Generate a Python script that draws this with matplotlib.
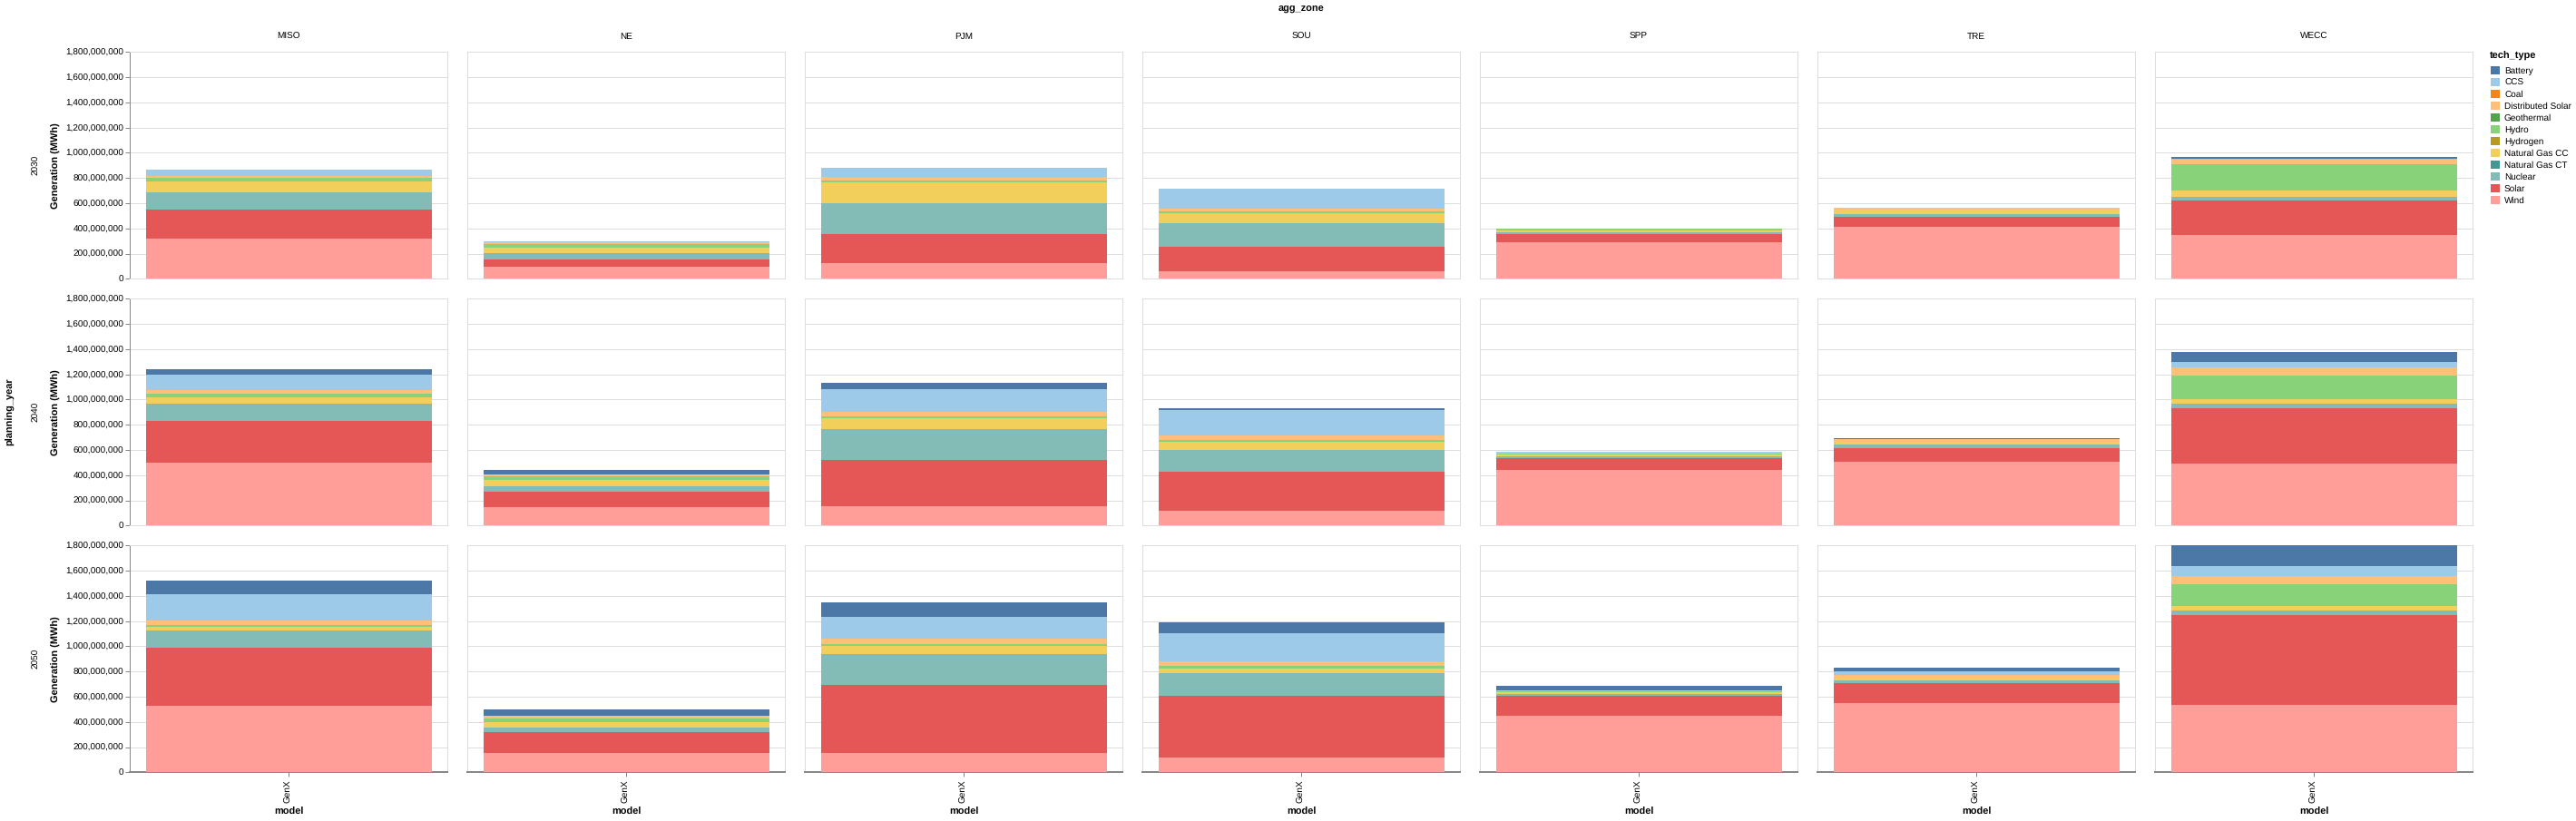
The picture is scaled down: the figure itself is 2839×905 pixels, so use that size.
"""Stacked generation by tech type, faceted by zone and planning year."""

import matplotlib

matplotlib.use("Agg")
import matplotlib.pyplot as plt
from matplotlib.patches import Patch
from matplotlib.ticker import FuncFormatter, MultipleLocator

plt.rcParams["font.family"] = ["Liberation Sans", "DejaVu Sans"]
plt.rcParams["text.hinting"] = "no_hinting"

zones = ["MISO", "NE", "PJM", "SOU", "SPP", "TRE", "WECC"]
years = ["2030", "2040", "2050"]
model = "GenX"

# legend order, top of the stack first
tech_types = [
    "Battery", "CCS", "Coal", "Distributed Solar", "Geothermal", "Hydro",
    "Hydrogen", "Natural Gas CC", "Natural Gas CT", "Nuclear", "Solar", "Wind",
]
tech_colors = [
    "#4c78a8", "#9ecae9", "#f58518", "#ffbf79", "#54a24b", "#88d27a",
    "#b79a20", "#f2cf5b", "#439894", "#83bcb6", "#e45756", "#ff9d98",
]

# million MWh: one row per year, one column per zone
wind = [
    [322, 94, 127, 62, 290, 415, 350],
    [499, 146, 154, 118, 442, 506, 492],
    [526, 151, 151, 120, 446, 550, 533],
]
solar = [
    [225, 60, 228, 195, 65, 75, 272],
    [334, 125, 364, 307, 93, 111, 442],
    [465, 166, 545, 490, 164, 156, 717],
]
nuclear = [
    [137, 50, 247, 182, 15, 26, 28],
    [132, 43, 248, 177, 17, 24, 31],
    [135, 38, 245, 180, 12, 26, 36],
]
gas_ct = [
    [2, 1, 0, 0, 0, 0, 0],
    [0, 0, 0, 0, 0, 0, 0],
    [0, 0, 0, 0, 0, 0, 0],
]
gas_cc = [
    [84, 42, 161, 79, 14, 29, 53],
    [53, 46, 84, 63, 14, 21, 38],
    [26, 43, 60, 36, 16, 19, 34],
]
hydrogen = [
    [0, 0, 0, 0, 0, 0, 0],
    [0, 0, 0, 0, 0, 0, 0],
    [0, 0, 0, 0, 0, 0, 0],
]
hydro = [
    [32, 29, 15, 15, 12, 0, 204],
    [26, 29, 14, 17, 4, 0, 190],
    [17, 29, 17, 16, 4, 0, 170],
]
geothermal = [
    [0, 0, 0, 0, 0, 0, 0],
    [0, 0, 0, 0, 0, 0, 0],
    [0, 0, 0, 0, 0, 0, 0],
]
dist_solar = [
    [14, 12, 28, 21, 5, 17, 41],
    [31, 17, 38, 31, 10, 22, 60],
    [38, 19, 40, 36, 8, 22, 65],
]
coal = [
    [0, 0, 0, 0, 0, 0, 0],
    [0, 0, 0, 0, 0, 0, 0],
    [0, 0, 0, 0, 0, 0, 0],
]
ccs = [
    [48, 7, 72, 159, 0, 0, 5],
    [120, 0, 183, 204, 3, 0, 48],
    [204, 0, 176, 224, 0, 31, 79],
]
battery = [
    [0, 5, 0, 0, 0, 0, 17],
    [45, 36, 45, 14, 0, 10, 74],
    [108, 51, 115, 86, 36, 26, 168],
]

# bottom of the stack first, matches reversed(tech_types)
stack = [
    wind, solar, nuclear, gas_ct, gas_cc, hydrogen,
    hydro, geothermal, dist_solar, coal, ccs, battery,
]

W, H = 2839, 905
DPI = 100
PX = 72 / DPI  # one pixel in points

GRID = "#dddddd"
DOMAIN = "#888888"

fig = plt.figure(figsize=(W / DPI, H / DPI), dpi=DPI)


def fig_xy(x, y):
    return x / W, 1 - y / H


def add_panel(left, top, width=350, height=250):
    return fig.add_axes([left / W, 1 - (top + height) / H, width / W, height / H])


panel_lefts = [143, 515, 887, 1259, 1631, 2003, 2375]
panel_tops = [57.3, 329.3, 601.3]

for row, top in enumerate(panel_tops):
    for col, left in enumerate(panel_lefts):
        ax = add_panel(left, top)
        bottom = 0.0
        for values, color in zip(stack, reversed(tech_colors)):
            value = values[row][col] * 1e6
            if value > 0:
                ax.bar(0, value, bottom=bottom, width=0.9, color=color, linewidth=0, zorder=3)
            bottom += value

        ax.set_xlim(-0.5, 0.5)
        ax.set_ylim(0, 1.8e9)
        ax.yaxis.set_major_locator(MultipleLocator(2e8))
        ax.grid(axis="y", color=GRID, linewidth=1 * PX, zorder=0)
        ax.set_axisbelow(True)
        for spine in ax.spines.values():
            spine.set_color(GRID)
            spine.set_linewidth(1 * PX)

        if col == 0:
            ax.spines["left"].set_color(DOMAIN)
            ax.yaxis.set_major_formatter(FuncFormatter(lambda v, _: f"{v:,.0f}"))
            ax.tick_params(
                axis="y", length=5 * PX, width=1 * PX, color=DOMAIN,
                labelsize=10 * PX, pad=2 * PX,
            )
            ax.set_ylabel("Generation (MWh)", fontsize=11 * PX, fontweight="bold", va="center")
            ax.yaxis.set_label_coords((62 - left) / 350, 0.5)
            fig.text(*fig_xy(40, top + 125), years[row], rotation=90,
                     fontsize=10 * PX, ha="center", va="center")
        else:
            ax.tick_params(axis="y", length=0, labelleft=False)

        if row == 0:
            fig.text(*fig_xy(left + 175, 40.7), zones[col],
                     fontsize=10 * PX, ha="center", va="center")

        if row == 2:
            ax.spines["bottom"].set_color(DOMAIN)
            ax.spines["bottom"].set_linewidth(2 * PX)
            ax.set_xticks([0])
            ax.set_xticklabels([model], rotation=90)
            ax.tick_params(
                axis="x", length=5 * PX, width=1 * PX, color=DOMAIN,
                labelsize=10 * PX, pad=3 * PX,
            )
            fig.text(*fig_xy(left + 175, 895), "model", fontsize=11 * PX,
                     fontweight="bold", ha="center", va="center")
        else:
            ax.set_xticks([])

fig.text(*fig_xy(1434, 9.5), "agg_zone", fontsize=11 * PX, fontweight="bold",
         ha="center", va="center")
fig.text(*fig_xy(11, 454), "planning_year", rotation=90, fontsize=11 * PX,
         fontweight="bold", ha="center", va="center")

# legend title placed on its own, the gap to the entries is wider than legend() gives
fig.text(*fig_xy(2744, 62), "tech_type", fontsize=11 * PX, fontweight="bold",
         ha="left", va="center")
handles = [Patch(facecolor=c, edgecolor="none", label=t) for t, c in zip(tech_types, tech_colors)]
fig.legend(
    handles=handles,
    fontsize=10 * PX,
    loc="upper left",
    bbox_to_anchor=fig_xy(2745, 73.5),
    frameon=False,
    borderpad=0,
    borderaxespad=0,
    handlelength=1.0,
    handleheight=1.0,
    handletextpad=0.5,
    labelspacing=0.3,
)

fig.savefig("out.png", dpi=DPI)
plt.close(fig)
